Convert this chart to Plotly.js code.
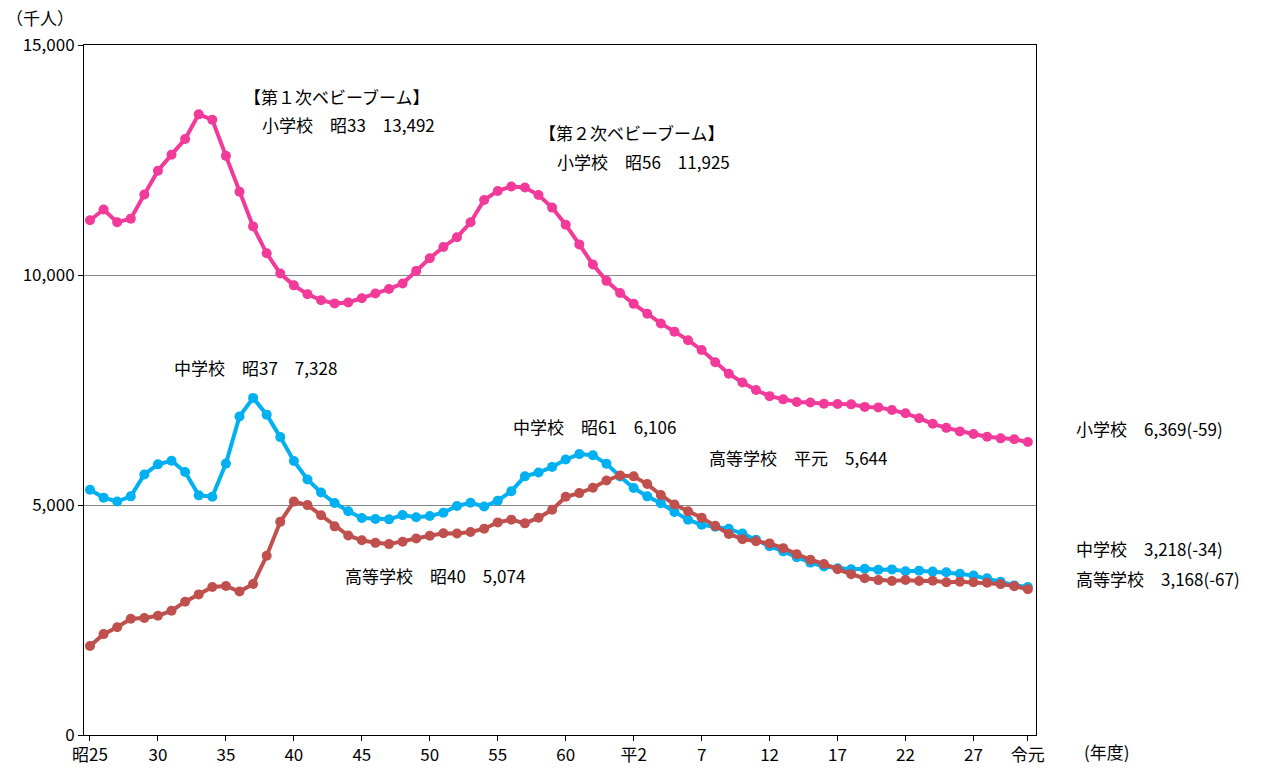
<!DOCTYPE html>
<html>
<head>
<meta charset="utf-8">
<script src="https://cdn.plot.ly/plotly-3.0.1.min.js"></script>
<style>body{margin:0;background:#fff}#chart{width:1271px;height:772px}</style>
</head>
<body>
<div id="chart"></div>
<script>
// 年度 (昭25 = 1950 ... 令元 = 2019)
const years = [];
for (let y = 1950; y <= 2019; y++) years.push(y);

const elementary = [11191,11423,11148,11225,11750,12267,12616,12956,13492,13375,
  12590,11810,11057,10471,10031,9775,9584,9452,9383,9403,
  9493,9596,9696,9816,10089,10365,10609,10819,11146,11630,
  11827,11925,11901,11739,11465,11095,10665,10227,9873,9607,
  9373,9157,8947,8769,8583,8370,8105,7855,7664,7500,
  7366,7297,7239,7227,7200,7197,7188,7133,7122,7064,
  6993,6887,6765,6677,6600,6543,6483,6449,6428,6369];

const juniorHigh = [5333,5160,5076,5188,5664,5884,5963,5718,5210,5180,
  5900,6924,7328,6964,6476,5957,5556,5271,5044,4865,
  4717,4694,4688,4780,4735,4762,4834,4978,5048,4967,
  5094,5300,5623,5706,5828,5990,6106,6082,5896,5619,
  5369,5188,5037,4850,4681,4570,4527,4481,4380,4243,
  4104,3992,3863,3748,3663,3626,3602,3615,3592,3600,
  3558,3573,3552,3537,3504,3465,3406,3333,3252,3218];

const highSchool = [1935,2193,2342,2528,2545,2592,2703,2898,3057,3216,
  3239,3119,3282,3896,4634,5074,4998,4777,4536,4337,
  4232,4177,4150,4201,4270,4333,4386,4381,4414,4485,
  4622,4682,4601,4724,4896,5178,5259,5375,5533,5644,
  5623,5455,5218,5010,4862,4725,4547,4371,4258,4212,
  4165,4062,3929,3810,3719,3605,3495,3407,3367,3348,
  3369,3349,3355,3320,3334,3319,3309,3280,3236,3168];

const tickYears = [1950,1955,1960,1965,1970,1975,1980,1985,1990,1995,2000,2005,2010,2015,2019];
const tickLabels = ['昭25','30','35','40','45','50','55','60','平2','7','12','17','22','27','令元'];

const font = 'Noto Sans CJK JP, sans-serif';

function series(name, y, color) {
  return {
    x: years, y: y, name: name, type: 'scatter', mode: 'lines+markers',
    line: {color: color, width: 4},
    marker: {color: color, size: 10}
  };
}

const traces = [
  series('小学校', elementary, '#F23A9A'),
  series('中学校', juniorHigh, '#00B0F0'),
  series('高等学校', highSchool, '#C0504D')
];

function note(text, x, y) {
  return {text: text, x: x, y: y, xref: 'x', yref: 'y', showarrow: false, xanchor: 'left',
    font: {size: 17, color: '#000', family: font}};
}
function side(text, xp, yp) {
  return {text: text, x: xp, y: yp, xref: 'paper', yref: 'y', showarrow: false,
    xanchor: 'left', font: {size: 17, color: '#000', family: font}};
}

const layout = {
  width: 1271, height: 772,
  margin: {l: 84, r: 235, t: 45, b: 37},
  paper_bgcolor: '#fff', plot_bgcolor: '#fff',
  showlegend: false,
  font: {family: font, size: 17, color: '#000'},
  xaxis: {
    range: [1949.56, 2019.6], tickvals: tickYears, ticktext: tickLabels,
    showgrid: false, zeroline: false, showline: true, mirror: true,
    linecolor: '#000', linewidth: 1, ticks: 'outside', ticklen: 5, tickcolor: '#000',
    tickfont: {size: 17}
  },
  yaxis: {
    range: [0, 15000], tickvals: [0, 5000, 10000, 15000], tickformat: ',d',
    showgrid: true, gridcolor: '#888', gridwidth: 1, zeroline: false,
    showline: true, mirror: true, linecolor: '#000', linewidth: 1,
    ticks: 'outside', ticklen: 5, tickcolor: '#000', tickfont: {size: 17}
  },
  annotations: [
    {text: '（千人）', x: 0, y: 1.005, xref: 'paper', yref: 'paper', xanchor: 'right',
      yanchor: 'bottom', xshift: -8, yshift: 10, showarrow: false, font: {size: 17, family: font}},
    {text: '(年度)', x: 1, y: 0, xref: 'paper', yref: 'paper', xanchor: 'left',
      yanchor: 'top', xshift: 46, yshift: -2, showarrow: false, font: {size: 17, family: font}},
    note('【第１次ベビーブーム】', 1961.2, 13870),
    note('小学校　昭33　13,492', 1962.5, 13280),
    note('【第２次ベビーブーム】', 1982.9, 13090),
    note('小学校　昭56　11,925', 1984.2, 12460),
    note('中学校　昭37　7,328', 1956.0, 8000),
    note('中学校　昭61　6,106', 1981.0, 6717),
    note('高等学校　平元　5,644', 1995.4, 6022),
    note('高等学校　昭40　5,074', 1968.6, 3457),
    side('小学校　6,369(-59)', 1.04, 6674),
    side('中学校　3,218(-34)', 1.04, 4065),
    side('高等学校　3,168(-67)', 1.04, 3413)
  ]
};

Plotly.newPlot('chart', traces, layout, {displayModeBar: false, staticPlot: true});
</script>
</body>
</html>
